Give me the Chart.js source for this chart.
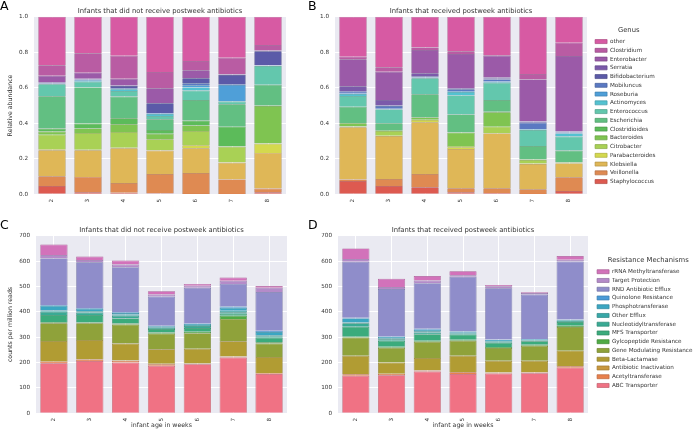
<!DOCTYPE html>
<html><head><meta charset="utf-8">
<script src="https://cdn.jsdelivr.net/npm/chart.js@4.4.0/dist/chart.umd.min.js"></script>
<style>
html,body{margin:0;padding:0;background:#fff;width:696px;height:431px;overflow:hidden;position:relative;font-family:'DejaVu Sans',sans-serif}
canvas{position:absolute}
.lbl{position:absolute;font-size:12.5px;line-height:1;color:#000;font-family:'DejaVu Sans',sans-serif}
</style></head><body>
<canvas id="cA" width="290" height="212" style="left:0;top:0"></canvas>
<canvas id="cB" width="420" height="212" style="left:290px;top:0"></canvas>
<canvas id="cC" width="290" height="216" style="left:0;top:215px"></canvas>
<canvas id="cD" width="420" height="216" style="left:290px;top:215px"></canvas>
<div class="lbl" style="left:0;top:0">A</div>
<div class="lbl" style="left:308px;top:0">B</div>
<div class="lbl" style="left:0;top:219px">C</div>
<div class="lbl" style="left:308px;top:219px">D</div>
<script>
// ---------- categories ----------
const weeks = ['2','3','4','5','6','7','8'];

// ---------- genus (bottom -> top) ----------
const genusNames = ['Staphylococcus','Veillonella','Klebsiella','Parabacteroides','Citrobacter','Bacteroides','Clostridioides','Escherichia','Enterococcus','Actinomyces','Roseburia','Mobiluncus','Bifidobacterium','Serratia','Enterobacter','Clostridium','other'];
const genusColors = ['#dd5a50','#df8a52','#dfb757','#d4d94e','#a9d155','#7fc451','#5cbb5a','#62bf82','#63c7ad','#53c2d1','#4f9fd8','#5a79c2','#5b5aa8','#7b5aaa','#9b5aa8','#b95ca3','#d75aa3'];

// relative abundance, infants without postweek antibiotics (rows = genusNames, cols = weeks)
const genusNoAbx = [
  [.047,.011,.009,.006,.002,.001,.011],
  [.054,.087,.055,.108,.118,.083,.021],
  [.147,.150,.195,.132,.139,.094,.201],
  [.005,.003,.003,.002,.017,.002,.052],
  [.083,.094,.089,.062,.080,.088,.002],
  [.017,.026,.043,.031,.032,.002,.210],
  [.017,.027,.034,.021,.027,.111,.003],
  [.182,.204,.122,.060,.116,.126,.117],
  [.067,.032,.032,.019,.053,.015,.105],
  [.003,.004,.009,.011,.018,.003,.002],
  [.001,.004,.003,.003,.012,.090,.001],
  [.001,.003,.004,.003,.011,.005,.002],
  [.005,.003,.012,.054,.028,.052,.078],
  [.001,.002,.002,.002,.002,.002,.002],
  [.037,.035,.039,.083,.043,.002,.003],
  [.060,.109,.129,.092,.052,.093,.031],
  [.273,.206,.220,.311,.250,.231,.159]
];
// relative abundance, infants with postweek antibiotics
const genusAbx = [
  [.075,.047,.039,.011,.008,.001,.019],
  [.009,.039,.075,.023,.026,.027,.077],
  [.293,.242,.291,.221,.309,.143,.078],
  [.003,.002,.013,.010,.002,.002,.002],
  [.002,.026,.002,.007,.036,.020,.002],
  [.018,.002,.013,.075,.081,.003,.002],
  [.002,.004,.002,.003,.003,.002,.002],
  [.091,.038,.128,.100,.066,.074,.064],
  [.060,.078,.090,.107,.097,.090,.079],
  [.012,.002,.003,.019,.004,.003,.018],
  [.002,.002,.002,.004,.003,.003,.003],
  [.011,.015,.002,.011,.012,.035,.003],
  [.004,.003,.004,.004,.005,.006,.003],
  [.026,.031,.017,.003,.005,.003,.003],
  [.152,.159,.131,.192,.123,.235,.424],
  [.015,.025,.015,.015,.004,.030,.075],
  [.225,.285,.173,.195,.216,.323,.146]
];

// ---------- resistance mechanisms (bottom -> top) ----------
const mechNames = ['ABC Transporter','Acetyltransferase','Antibiotic Inactivation','Beta-Lactamase','Gene Modulating Resistance','Gylcopeptide Resistance','MFS Transporter','Nucleotidyltransferase','Other Efflux','Phosphotransferase','Quinolone Resistance','RND Antibiotic Efflux','Target Protection','rRNA Methyltransferase'];
const mechColors = ['#f07284','#e8804c','#c8983e','#b19c33','#8fa23a','#4fab45','#3bab7c','#39aa94','#38a8a8','#3ba6c2','#4b9bd8','#8f8dca','#b48bc9','#d272ba'];

// counts per million reads, no postweek antibiotics (rows = mechNames, cols = weeks)
const mechNoAbx = [
  [197,206,200,187,193,220,155],
  [6.5,6,7,6,2,3,3],
  [2.5,2,1,2,1,1,1],
  [79,75,67,57,58,60,63],
  [70,66,75,62,62,88,53],
  [3.5,3,4,4,5,12,5],
  [29,29,20,14,15,8,18],
  [13,10,10,4,8,6,6],
  [5,5,5,3,4,6,4],
  [18,10,6,4,4,12,12],
  [3,3,3,2,2,5,5],
  [184,180,178,115,141,89,153],
  [13,9,10,8,8,12,17],
  [42,14,16,13,7,13,7]
];
// counts per million reads, postweek antibiotics
const mechAbx = [
  [148,150,165,155,157,158,180],
  [6,5,4,7,3,3,5],
  [1,1,1,1,1,1,1],
  [72,44,48,64,46,45,61],
  [72,58,64,59,50,59,93],
  [3,4,4,4,4,4,5],
  [39,24,26,20,17,14,15],
  [14,6,6,4,4,3,4],
  [3,4,5,3,3,2,3],
  [16,5,6,5,5,3,2],
  [3,2,4,1,1,1,1],
  [220,187,180,215,202,175,228],
  [11,8,10,6,8,6,7],
  [42,32,18,16,5,3,15]
];

const titleNo = 'Infants that did not receive postweek antibiotics';
const titleYes = 'Infants that received postweek antibiotics';

// ---------- drawing ----------
Chart.defaults.font.family = "'DejaVu Sans', sans-serif";
Chart.defaults.color = '#333';
const TXT = '#333';
const FS_TICK = 5.67, FS_LAB = 6.24, FS_TITLE = 6.8, LPAD = 3.08;

function shade(hex, f){const n=parseInt(hex.slice(1),16);return `rgb(${Math.round(((n>>16)&255)*f)},${Math.round(((n>>8)&255)*f)},${Math.round((n&255)*f)})`;}
function legendWidth(names){const c=document.createElement('canvas').getContext('2d');c.font=`normal ${FS_TICK}px 'DejaVu Sans', sans-serif`;let m=0;names.forEach(n=>{m=Math.max(m,c.measureText(n).width);});return LPAD+12+FS_TICK/2+m+10;}

const bgPlugin = {id:'bg', beforeDraw(chart){const {ctx,chartArea:a}=chart;ctx.save();ctx.fillStyle='#eaeaf2';ctx.fillRect(a.left,a.top,a.right-a.left,a.bottom-a.top);ctx.restore();}};

function makeChart(id, o){
  const canvas = document.getElementById(id);
  const datasets = o.names.map((n,i)=>({label:n, data:o.data[i], backgroundColor:o.colors[i], borderColor:shade(o.colors[i],0.8), borderWidth:0.7, barPercentage:0.76, categoryPercentage:1}));
  const scales = {
    x:{stacked:true, grid:{color:'#ffffff', lineWidth:1, offset:false, drawTicks:false}, border:{display:false},
       ticks:{font:{size:FS_TICK}, color:TXT, maxRotation:90, minRotation:90, padding:4.5},
       title: o.xTitle ? {display:true, text:o.xTitle, font:{size:FS_LAB}, color:TXT, padding:{top:0,bottom:1.56}} : {display:false},
       afterFit:s=>{s.height=o.xHeight;}},
    y:{stacked:true, min:0, max:o.yMax, grid:{color:'#ffffff', lineWidth:1, drawTicks:false}, border:{display:false},
       ticks:{stepSize:o.yStep, callback:o.yFmt, font:{size:FS_TICK}, color:TXT, padding:6},
       title: o.yTitle ? {display:true, text:o.yTitle, font:{size:FS_LAB}, color:TXT, padding:{top:6.26,bottom:0}} : {display:false},
       afterFit:s=>{s.width=o.yWidth;}}
  };
  let padRight = o.padRight;
  let lw = 0;
  if (o.legendTitle){
    scales.gap = {type:'linear', position:'right', display:true, grid:{display:false}, border:{display:false}, ticks:{display:false}, afterFit:s=>{s.width=o.gap;}};
    lw = legendWidth(o.names);
    padRight = canvas.width - o.chartRight - o.gap - lw;
  }
  return new Chart(canvas, {
    type:'bar',
    data:{labels:weeks, datasets},
    options:{
      responsive:false, animation:false, devicePixelRatio:1,
      layout:{padding:{left:0, right:padRight, top:0, bottom:0}},
      scales,
      plugins:{
        title:{display:true, text:o.title, fullSize:false, font:{size:FS_TITLE, weight:'normal'}, color:TXT, padding:{top:o.titleTop, bottom:1.62}},
        legend: o.legendTitle ? {display:true, position:'right', reverse:true, maxWidth:1000,
          labels:{boxWidth:12, boxHeight:4, padding:LPAD, font:{size:FS_TICK}, color:TXT},
          title:{display:true, text:o.legendTitle, font:{size:FS_TITLE}, color:TXT, padding:{top:2,bottom:1}}} : {display:false},
        tooltip:{enabled:false}
      }
    },
    plugins:[bgPlugin]
  });
}

const fracFmt = v => v.toFixed(1);
const intFmt = v => String(v);

makeChart('cA', {names:genusNames, colors:genusColors, data:genusNoAbx, title:titleNo, yMax:1, yStep:0.2, yFmt:fracFmt,
  yTitle:'Relative abundance', yWidth:34, xHeight:17.7, padRight:4, titleTop:6.92});
makeChart('cB', {names:genusNames, colors:genusColors, data:genusAbx, title:titleYes, yMax:1, yStep:0.2, yFmt:fracFmt,
  yWidth:45, xHeight:17.7, chartRight:297, gap:5, legendTitle:'Genus', titleTop:6.92});
makeChart('cC', {names:mechNames, colors:mechColors, data:mechNoAbx, title:titleNo, yMax:700, yStep:100, yFmt:intFmt,
  yTitle:'counts per million reads', xTitle:'infant age in weeks', yWidth:36, xHeight:17.7, padRight:3, titleTop:10.92});
makeChart('cD', {names:mechNames, colors:mechColors, data:mechAbx, title:titleYes, yMax:700, yStep:100, yFmt:intFmt,
  xTitle:'infant age in weeks', yWidth:48, xHeight:17.7, chartRight:298, gap:6, legendTitle:'Resistance Mechanisms', titleTop:10.92});
</script>
</body></html>
